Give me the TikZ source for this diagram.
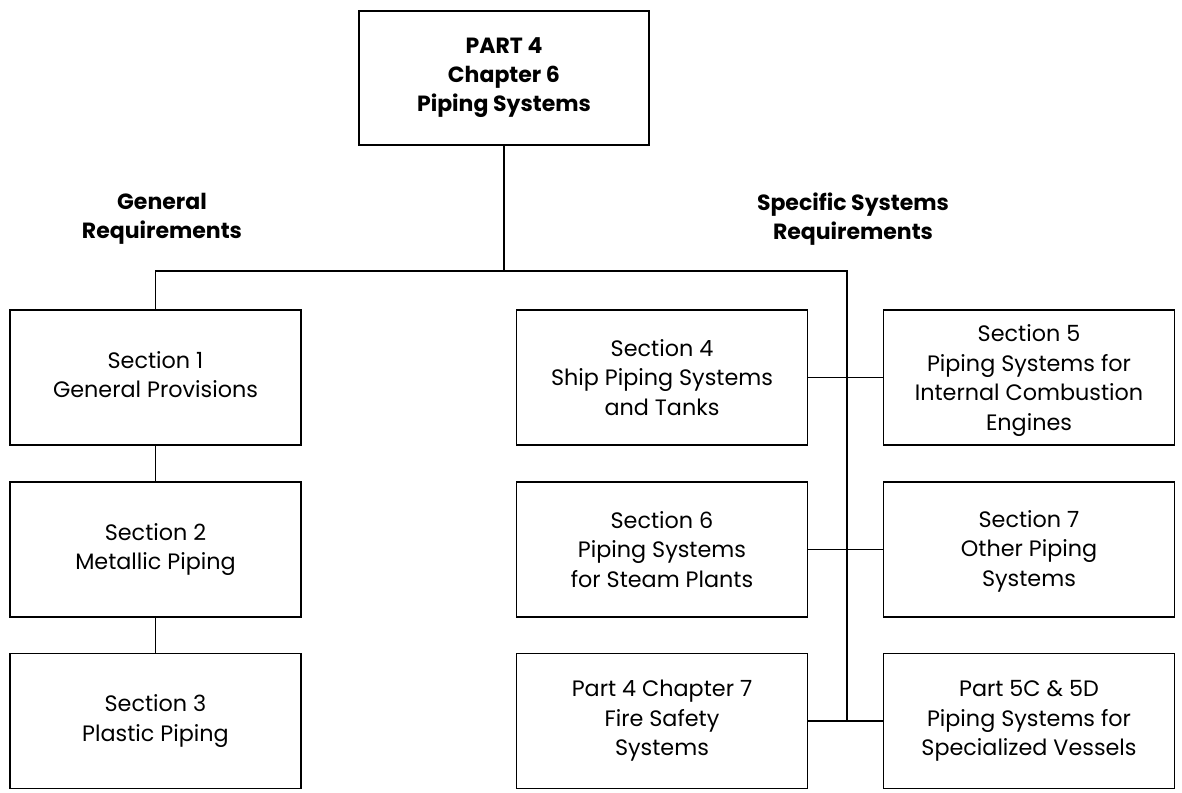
\documentclass[tikz,border=0pt]{standalone}
\usepackage{fontspec}
\setmainfont{Poppins}
\begin{document}
\begin{tikzpicture}[x=1pt,y=-1pt,
  box/.style={draw=black,line width=1.3pt,minimum width=291pt,minimum height=135pt,
    align=center,font=\fontsize{22.3}{29.4}\selectfont,inner sep=0pt},
  topbox/.style={box,line width=2.8pt,font=\fontsize{22}{29}\selectfont\bfseries,minimum width=290pt,minimum height=134pt},
  head/.style={align=center,font=\fontsize{22}{29}\selectfont\bfseries},
  conn/.style={draw=black,line width=1.3pt}]
\useasboundingbox (0,0) rectangle (1182,792);
\node[topbox] (top) at (504,78) {PART 4\\Chapter 6\\Piping Systems};
\node[head] (gen) at (162,219) {General\\Requirements};
\node[head] (spec) at (853,219) {Specific Systems\\Requirements};
\node[box] (s1) at (155.5,377.5) {Section 1\\General Provisions\vphantom{p}};
\node[box] (s2) at (155.5,549.5) {Section 2\\Metallic Piping};
\node[box] (s3) at (155.5,721) {Section 3\\Plastic Piping};
\node[box] (s4) at (662,377.5) {Section 4\\Ship Piping Systems\\and Tanks};
\node[box] (s5) at (1029,377.5) {\raisebox{0pt}[\dimexpr\height+6pt\relax]{Section 5}\\Piping Systems for\\Internal Combustion\\Engines};
\node[box] (s6) at (662,549.5) {Section 6\\Piping Systems\\for Steam Plants};
\node[box] (s7) at (1029,549.5) {\raisebox{0pt}[\dimexpr\height+3pt\relax]{Section 7}\\Other Piping\\Systems};
\node[box] (p47) at (662,721) {Part 4 Chapter 7\\Fire Safety\\Systems};
\node[box] (p5c) at (1029,721) {Part 5C \& 5D\\Piping Systems for\\Specialized Vessels};
\coordinate (jt) at (504,271);
\coordinate (jl) at (155.5,271);
\coordinate (jr) at (847,271);
\coordinate (jb) at (847,721);
\draw[conn] (top.south) -- (jt);
\draw[conn] (s1.north) -- (jl) -- (jr) -- (jb);
\draw[conn] (s1.south) -- (s2.north);
\draw[conn] (s2.south) -- (s3.north);
\draw[conn] (s4.east) -- (s5.west);
\draw[conn] (s6.east) -- (s7.west);
\draw[conn] (p47.east) -- (p5c.west);
\end{tikzpicture}
\end{document}
